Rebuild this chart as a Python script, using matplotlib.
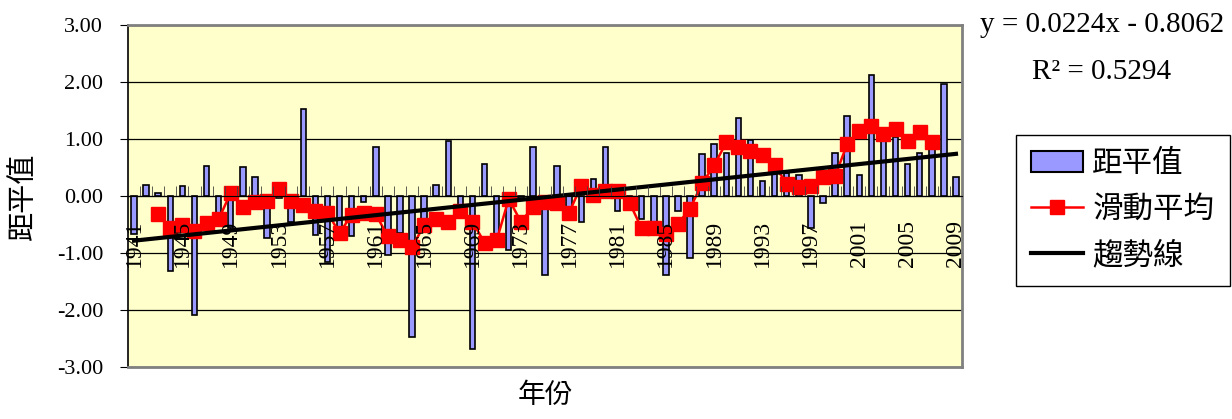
"""
Anomalías anuales 1941-2009: barras de 距平值, media móvil de 5 años
y recta de tendencia lineal con su ecuación y R².
"""

import matplotlib

matplotlib.use("Agg")
import matplotlib.pyplot as plt
import numpy as np
from matplotlib.lines import Line2D
from matplotlib.patches import Patch

YEARS = list(range(1941, 2010))
ANOMALY = [
    -0.67, 0.20, 0.06, -1.31, 0.17, -2.08, 0.53, -0.41, -0.56, 0.50,   # 1941-1950
    0.34, -0.74, -0.04, -0.45, 1.52, -0.68, -1.15, -0.54, -0.71, -0.10,  # 1951-1960
    0.86, -1.04, -0.65, -2.48, -0.55, 0.20, 0.96, -0.18, -2.68, 0.56,   # 1961-1970
    -0.85, -0.95, -0.03, 0.86, -1.38, 0.53, -0.30, -0.45, 0.30, 0.86,   # 1971-1980
    -0.27, -0.05, -0.40, -0.55, -1.38, -0.27, -1.08, 0.73, 0.92, 0.76,  # 1981-1990
    1.36, 0.99, 0.26, 0.58, 0.41, 0.37, -0.57, -0.12, 0.76, 1.40,       # 1991-2000
    0.37, 2.13, 1.00, 1.03, 0.56, 0.76, 1.00, 1.96, 0.33,               # 2001-2009
]

MOVING_AVG_YEARS = list(range(1943, 2008))
MOVING_AVG = [
    -0.32, -0.57, -0.51, -0.62, -0.47, -0.41, 0.06, -0.19,              # 1943-1950
    -0.10, -0.08, 0.13, -0.08, -0.16, -0.26, -0.29, -0.65, -0.33, -0.30,  # 1951-1960
    -0.32, -0.71, -0.77, -0.90, -0.51, -0.41, -0.45, -0.26, -0.45, -0.82,  # 1961-1970
    -0.78, -0.05, -0.45, -0.20, -0.10, -0.12, -0.29, 0.18, 0.02, 0.08,    # 1971-1980
    0.08, -0.12, -0.57, -0.57, -0.66, -0.49, -0.22, 0.22, 0.54, 0.94,     # 1981-1990
    0.86, 0.79, 0.72, 0.54, 0.21, 0.15, 0.18, 0.34, 0.35, 0.91,           # 1991-2000
    1.14, 1.23, 1.09, 1.17, 0.97, 1.13, 0.94,                             # 2001-2007
]

TREND_SLOPE = 0.0224
TREND_INTERCEPT = -0.8062
R_SQUARED = 0.5294

Y_TICKS = [3, 2, 1, 0, -1, -2, -3]
LABEL_YEARS = YEARS[::4]

COLOR_BARRA = "#9999FF"
COLOR_MEDIA = "#FF0000"
COLOR_FONDO = "#FFFFCC"
COLOR_MARCO = "#808080"


def main() -> None:
    plt.rcParams["font.family"] = ["Liberation Serif", "Noto Sans CJK TC"]

    fig = plt.figure(figsize=(12.32, 4.19), dpi=100)
    ax = fig.add_axes([128 / 1232, 1 - 367 / 419, 834 / 1232, 342 / 419])
    ax.set_facecolor(COLOR_FONDO)

    pos = np.arange(len(YEARS))
    ax.bar(pos, ANOMALY, width=0.45, color=COLOR_BARRA, edgecolor="black",
           linewidth=1.2, zorder=2)

    ma_pos = [YEARS.index(y) for y in MOVING_AVG_YEARS]
    ax.plot(ma_pos, MOVING_AVG, color=COLOR_MEDIA, linewidth=1.8,
            marker="s", markersize=9.5, zorder=3)

    # recta de tendencia: x = 1..69 según la ecuación del ajuste
    trend = TREND_SLOPE * (pos + 1) + TREND_INTERCEPT
    ax.plot(pos, trend, color="black", linewidth=3, zorder=4)

    ax.set_xlim(-0.5, len(YEARS) - 0.5)
    ax.set_ylim(-3, 3)
    ax.set_xticks([])
    ax.set_yticks(Y_TICKS, [f"{v:.2f}" for v in Y_TICKS])
    ax.tick_params(axis="y", direction="out", length=6, pad=12, labelsize=16)
    ax.grid(axis="y", color="black", linewidth=0.9)
    ax.set_axisbelow(True)

    for lado in ("top", "right", "bottom"):
        ax.spines[lado].set_color(COLOR_MARCO)
        ax.spines[lado].set_linewidth(2)
    ax.spines["left"].set_color("black")
    ax.spines["left"].set_linewidth(1.2)

    # eje de categorías cruzando en y = 0, con los años por encima de las series
    eje_cero = ax.secondary_xaxis(0, transform=ax.transData)
    eje_cero.set_zorder(5)
    label_pos = [YEARS.index(y) for y in LABEL_YEARS]
    eje_cero.set_xticks(label_pos, [str(y) for y in LABEL_YEARS], rotation=90)
    eje_cero.set_xticks(np.arange(0.5, len(YEARS) - 1), minor=True)
    eje_cero.tick_params(which="major", length=0, pad=17, labelsize=17)
    eje_cero.tick_params(which="minor", direction="in", length=7, color="#404040")
    eje_cero.spines["bottom"].set_color("black")

    ax.set_ylabel("距平值", fontsize=21, labelpad=14)
    ax.set_xlabel("年份", fontsize=20, labelpad=12)

    fig.text(1102 / 1232, 1 - 25 / 419,
             f"y = {TREND_SLOPE:.4f}x - {abs(TREND_INTERCEPT):.4f}",
             ha="center", va="center", fontsize=21)
    fig.text(1102 / 1232, 1 - 72 / 419, f"R² = {R_SQUARED:.4f}",
             ha="center", va="center", fontsize=21)

    handles = [
        Patch(facecolor=COLOR_BARRA, edgecolor="black", linewidth=1.5),
        Line2D([], [], color=COLOR_MEDIA, linewidth=1.8, marker="s", markersize=9.5),
        Line2D([], [], color="black", linewidth=3),
    ]
    fig.legend(handles, ["距平值", "滑動平均", "趨勢線"],
               loc="upper left", bbox_to_anchor=(1016 / 1232, 1 - 135 / 419),
               frameon=True, fancybox=False, edgecolor="black", framealpha=1,
               fontsize=22, handlelength=1.7, handletextpad=0.3,
               labelspacing=0.55, borderpad=0.5, borderaxespad=0)

    fig.savefig("out.png", dpi=100)
    plt.close(fig)


if __name__ == "__main__":
    main()
